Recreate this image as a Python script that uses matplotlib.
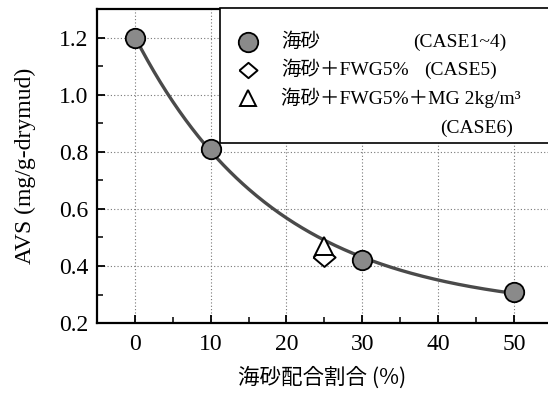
import numpy as np
import matplotlib
matplotlib.use("Agg")
import matplotlib.pyplot as plt
from matplotlib.patches import Rectangle
from matplotlib.ticker import MultipleLocator

plt.rcParams['font.family'] = ['Liberation Serif', 'Noto Sans CJK JP']

# data
sand_x = [0, 10, 30, 50]
sand_y = [1.20, 0.81, 0.42, 0.31]
fwg_x = [25]
fwg_y = [0.43]
fwg_mg_x = [25]
fwg_mg_y = [0.47]
xticks = [0, 10, 20, 30, 40, 50]
yticks = [0.2, 0.4, 0.6, 0.8, 1.0, 1.2]

# exponential fit y = a + b*exp(-c x) of sea-sand series
xs = np.array(sand_x, float); ys = np.array(sand_y, float)
best = None
for c in np.linspace(0.01, 0.2, 2000):
    A = np.vstack([np.ones_like(xs), np.exp(-c * xs)]).T
    coef, res, *_ = np.linalg.lstsq(A, ys, rcond=None)
    err = np.sum((A @ coef - ys) ** 2)
    if best is None or err < best[0]:
        best = (err, c, coef)
_, cbest, (a, b) = best
xf = np.linspace(0, 50, 300)
yf = a + b * np.exp(-cbest * xf)

diamond = [(-1, 0), (0, 0.85), (1, 0), (0, -0.85), (-1, 0)]

fig = plt.figure(figsize=(5.48, 3.94), dpi=100)
ax = fig.add_axes([0.177, 0.180, 0.823, 0.797])

ax.plot(xf, yf, color='#4a4a4a', lw=2.4, zorder=3)
ax.plot(sand_x, sand_y, 'o', ms=14, mfc='#8a8a8a', mec='black', mew=1.3, zorder=4, linestyle='none')
ax.plot(fwg_x, fwg_y, marker=diamond, ms=16, mfc='white', mec='black', mew=1.4, zorder=4, linestyle='none')
ax.plot(fwg_mg_x, fwg_mg_y, '^', ms=13, mfc='white', mec='black', mew=1.4, zorder=5, linestyle='none')

ax.set_xlim(-5, 54.5)
ax.set_ylim(0.2, 1.3)
ax.set_xticks(xticks)
ax.set_yticks(yticks)
ax.xaxis.set_minor_locator(MultipleLocator(5))
ax.yaxis.set_minor_locator(MultipleLocator(0.1))
ax.tick_params(which='both', direction='in', top=False, right=False, labelsize=17)
ax.tick_params(axis='x', pad=8)
ax.tick_params(axis='y', pad=6)
ax.tick_params(which='major', length=6, width=1.3)
ax.tick_params(which='minor', length=4, width=1.1)
ax.set_yticklabels([f'{v:.1f}' for v in yticks])
ax.grid(True, which='major', linestyle=(0, (1, 2)), color='#777777', lw=0.8)
ax.set_axisbelow(True)
for s in ['left', 'bottom', 'top']:
    ax.spines[s].set_linewidth(1.6)
ax.spines['right'].set_visible(False)

ax.set_ylabel('AVS (mg/g-drymud)', fontsize=17, labelpad=17)
ax.set_xlabel('海砂配合割合 (%)', fontsize=15.5, family=['Noto Sans CJK JP'], labelpad=8)

# legend box
ax.add_patch(Rectangle((0.273, 0.573), 0.75, 0.43, transform=ax.transAxes,
                       facecolor='white', edgecolor='black', lw=1.2, zorder=6, clip_on=False))
mx = 0.335
rows = [0.895, 0.806, 0.717]
ax.plot([mx], [rows[0]], 'o', ms=14, mfc='#8a8a8a', mec='black', mew=1.3, transform=ax.transAxes, zorder=7, clip_on=False)
ax.plot([mx], [rows[1]], marker=diamond, ms=13, mfc='white', mec='black', mew=1.4, transform=ax.transAxes, zorder=7, clip_on=False)
ax.plot([mx], [rows[2]], '^', ms=12, mfc='white', mec='black', mew=1.4, transform=ax.transAxes, zorder=7, clip_on=False)
tx = 0.408
kw = dict(transform=ax.transAxes, va='center', ha='left', zorder=8, fontsize=14)
ax.text(tx, rows[0], '海砂', **kw)
ax.text(0.70, rows[0], '(CASE1~4)', **kw)
ax.text(tx, rows[1], '海砂＋FWG5%', **kw)
ax.text(0.725, rows[1], '(CASE5)', **kw)
ax.text(tx, rows[2], '海砂＋FWG5%＋MG 2kg/m³', **kw)
ax.text(0.76, 0.621, '(CASE6)', **kw)

fig.savefig('out.png', dpi=100)
